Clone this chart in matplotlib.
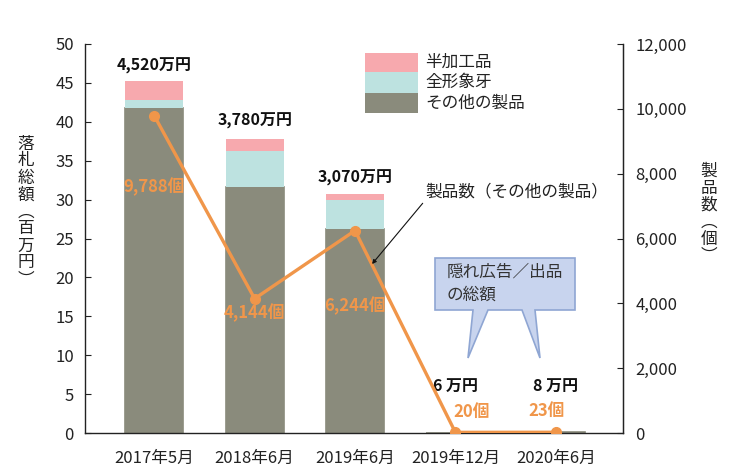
import matplotlib
matplotlib.use("Agg")
import matplotlib.pyplot as plt
from matplotlib.patches import Polygon, Rectangle
from matplotlib.ticker import FuncFormatter, MultipleLocator

plt.rcParams['font.family'] = ['Noto Sans CJK JP', 'DejaVu Sans']

# ---- data ----
categories = ["2017年5月", "2018年6月", "2019年6月", "2019年12月", "2020年6月"]
other_products = [41.8, 31.6, 26.2, 0.06, 0.08]   # その他の製品 (百万円)
whole_ivory = [1.0, 4.6, 3.7, 0.0, 0.0]           # 全形象牙
semi_processed = [2.4, 1.6, 0.8, 0.0, 0.0]        # 半加工品
total_labels = ["4,520万円", "3,780万円", "3,070万円", "6 万円", "8 万円"]
product_counts = [9788, 4144, 6244, 20, 23]       # 製品数 (個)
count_labels = ["9,788個", "4,144個", "6,244個", "20個", "23個"]
series_names = ["半加工品", "全形象牙", "その他の製品"]

# ---- style ----
C_GRAY = "#8a8b7c"
C_CYAN = "#bde2e0"
C_PINK = "#f7a9ae"
C_ORANGE = "#f0964a"
W, H = 734, 476

fig = plt.figure(figsize=(W / 100, H / 100), dpi=100)

def fx(x):
    return x / W

def fy(y):
    return 1 - y / H

ax = fig.add_axes([fx(85), fy(433), (623 - 85) / W, (433 - 44) / H])
x = list(range(len(categories)))
bw = 0.58
ax.bar(x, other_products, bw, color=C_GRAY, edgecolor=C_GRAY, linewidth=1.2, zorder=2)
bottom2 = other_products
ax.bar(x, whole_ivory, bw, bottom=bottom2, color=C_CYAN, linewidth=0, zorder=2)
bottom3 = [a + b for a, b in zip(other_products, whole_ivory)]
ax.bar(x, semi_processed, bw, bottom=bottom3, color=C_PINK, linewidth=0, zorder=2)
totals = [a + b for a, b in zip(bottom3, semi_processed)]

ax.set_xlim(-0.69, 4.67)
ax.set_ylim(0, 50)
ax.yaxis.set_major_locator(MultipleLocator(5))
ax.set_xticks(x)
ax.set_xticklabels(categories)
ax.tick_params(axis='x', length=0, pad=12, labelsize=12, colors="#222222")
ax.tick_params(axis='y', direction='in', length=4, pad=8, labelsize=12, colors="#222222")
ax.spines["top"].set_visible(False)
for s in ["left", "bottom", "right"]:
    ax.spines[s].set_linewidth(1.0)
    ax.spines[s].set_color("#222222")

# total labels above bars (offsets in points)
total_offsets = [11, 13, 12, 33, 33]
for xi, t, lab, off in zip(x, totals, total_labels, total_offsets):
    ax.annotate(lab, (xi, t), xytext=(0, off), textcoords='offset points',
                ha='center', va='center', fontsize=11.5, fontweight='bold', color="#111111")

ax2 = ax.twinx()
ax2.set_ylim(0, 12000)
ax2.yaxis.set_major_locator(MultipleLocator(2000))
ax2.yaxis.set_major_formatter(FuncFormatter(lambda v, p: f"{int(v):,}"))
ax2.tick_params(axis='y', direction='in', length=4, pad=9, labelsize=12, colors="#222222")
for s in ["top", "left", "bottom"]:
    ax2.spines[s].set_visible(False)
ax2.spines["right"].set_color("#222222")
ax2.plot(x, product_counts, color=C_ORANGE, lw=2.4, marker='o', markersize=7, zorder=3)

count_offsets = [(0, -51), (0, -10), (0, -54), (12, 15), (-7, 15)]
for xi, c, lab, (dx, dy) in zip(x, product_counts, count_labels, count_offsets):
    ax2.annotate(lab, (xi, c), xytext=(dx, dy), textcoords='offset points',
                 ha='center', va='center', fontsize=12, fontweight='bold', color=C_ORANGE)

# annotation for the line
ax2.annotate("製品数（その他の製品）", xy=(2.17, 5213), xycoords='data',
             xytext=(fx(425), fy(192)), textcoords='figure fraction',
             ha='left', va='center', fontsize=12, color="#222222",
             arrowprops=dict(arrowstyle='-|>', color='#111111', lw=0.8,
                             mutation_scale=6, relpos=(0, 0), shrinkA=0, shrinkB=0))

# manual legend
leg_colors = [C_PINK, C_CYAN, C_GRAY]
leg_rows = [(53, 72), (72, 93), (93, 113)]
for col, name, (y0, y1) in zip(leg_colors, series_names, leg_rows):
    fig.patches.append(Rectangle((fx(365), fy(y1)), (418 - 365) / W, (y1 - y0) / H,
                                 transform=fig.transFigure, facecolor=col, edgecolor='none'))
    fig.text(fx(425), fy((y0 + y1) / 2), name, ha='left', va='center', fontsize=12, color="#222222")

# callout box
pts = [(435, 258), (575, 258), (575, 310), (535, 310), (540, 358), (522, 310),
       (488, 310), (468, 358), (473, 310), (435, 310)]
fig.patches.append(Polygon([(fx(a), fy(b)) for a, b in pts], closed=True,
                           transform=fig.transFigure, facecolor="#c8d4ee",
                           edgecolor="#8fa6d3", linewidth=1.2, zorder=5))
fig.text(fx(447), fy(272), "隠れ広告／出品", ha='left', va='center', fontsize=12, color="#333333", zorder=6)
fig.text(fx(447), fy(295), "の総額", ha='left', va='center', fontsize=12, color="#333333", zorder=6)

# vertical axis titles
fig.text(fx(26), fy(212), "\n".join("落札総額︵百万円︶"), ha='center', va='center',
         fontsize=12, linespacing=1.0, color="#222222")
fig.text(fx(709), fy(214), "\n".join("製品数︵個︶"), ha='center', va='center',
         fontsize=12, linespacing=1.0, color="#222222")

fig.savefig("out.png", dpi=100)
